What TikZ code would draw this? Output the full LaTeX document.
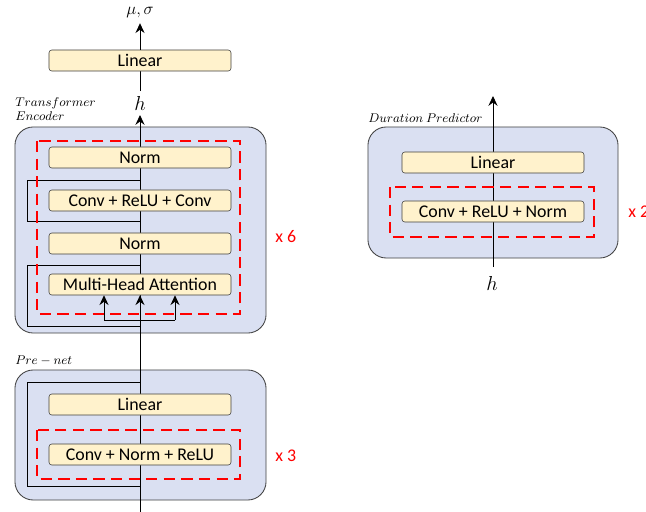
\documentclass[tikz,border=0pt]{standalone}
\usepackage{fontspec}
\setmainfont{Carlito}
\usetikzlibrary{arrows.meta,positioning,backgrounds}
\definecolor{blockfill}{RGB}{255,242,204}
\definecolor{groupfill}{RGB}{218,224,242}
\definecolor{edgegray}{RGB}{64,64,64}

\begin{document}
\begin{tikzpicture}[
    x=0.025cm, y=-0.025cm,
    layer/.style={draw=edgegray, fill=blockfill, rounded corners=2pt, minimum width=4.55cm, minimum height=0.525cm, inner sep=0pt, font=\fontsize{12.7}{14}\selectfont},
    group/.style={draw=edgegray, fill=groupfill, rounded corners=13pt, line width=0.6pt},
    repeatbox/.style={draw=red, line width=2pt, dash pattern=on 8pt off 4.5pt},
    times/.style={text=red, anchor=west, inner sep=0pt, font=\fontsize{12.7}{14}\selectfont},
    tag/.style={anchor=north west, align=left, inner sep=0pt, font=\fontsize{9}{11}\selectfont},
    flow/.style={line width=0.6pt},
    tip/.style={-{Stealth[length=7pt, width=6.5pt, inset=2.4pt]}}
  ]
  \useasboundingbox (0,0) rectangle (646,512);

  % output head
  \node (musig) at (140,13) {\large$\mu,\sigma$};
  \node[layer] (lin) at (140,60.5) {Linear};
  \node (hout) at (140,103) {\Large$h$};

  % transformer encoder
  \node[tag] (enctag) at (15,97) {$Transformer$\\[-1pt]$Encoder$};
  \node[layer] (norm2) at (140,157.5) {Norm};
  \node[layer] (ffn) at (140,200.5) {Conv + ReLU + Conv};
  \node[layer] (norm1) at (140,243.5) {Norm};
  \node[layer] (mha) at (140,284.5) {Multi-Head Attention};
  \node[times] (enctimes) at (275,237) {x 6};

  % pre-net
  \node[tag] (pretag) at (15,356) {$Pre-net$};
  \node[layer] (prelin) at (140,404.5) {Linear};
  \node[layer] (preconv) at (140,454.5) {Conv + Norm + ReLU};
  \node[times] (pretimes) at (275,456) {x 3};

  % duration predictor
  \node[tag] (durtag) at (368,113) {$Duration\ Predictor$};
  \node[layer] (durlin) at (493,162.5) {Linear};
  \node[layer] (durconv) at (493,211.5) {Conv + ReLU + Norm};
  \node[times] (durtimes) at (628,212) {x 2};
  \node (hdur) at (492,283) {\Large$h$};

  \coordinate (base) at (140,512);
  \coordinate (durout) at (493,96);
  \coordinate (kin) at (104,320);
  \coordinate (vin) at (175,320);
  \coordinate (qin) at (140,320);

  \begin{pgfonlayer}{background}
    \node[group, minimum width=6.275cm, minimum height=5.15cm] (enc) at (140.5,230) {};
    \node[group, minimum width=6.275cm, minimum height=3.25cm] (pre) at (140.5,435) {};
    \node[group, minimum width=6.25cm, minimum height=3.275cm] (dur) at (493,192.5) {};

    \draw[flow, tip] (base) -- (hout.south);
    \draw[flow] (hout.north) -- (lin.south);
    \draw[flow, tip] (493,267) -- (durout);

    % residual paths
    \draw[flow] (140,180) -- (27,180) -- (27,221) -- (140,221);
    \draw[flow] (140,265) -- (27,265) -- (27,326) -- (140,326);
    \draw[flow] (140,382) -- (27,382) -- (27,486) -- (140,486);
  \end{pgfonlayer}

  \draw[repeatbox] (37,141) rectangle (240,314);
  \draw[repeatbox] (37,430) rectangle (240,479);
  \draw[repeatbox] (390,187) rectangle (594,237);

  \draw[flow, tip] (lin.north) -- (musig.south);
  \draw[flow] (kin) -- (vin);
  \draw[flow, tip] (kin) -- (kin |- mha.south);
  \draw[flow, tip] (qin) -- (mha.south);
  \draw[flow, tip] (vin) -- (vin |- mha.south);
\end{tikzpicture}
\end{document}
